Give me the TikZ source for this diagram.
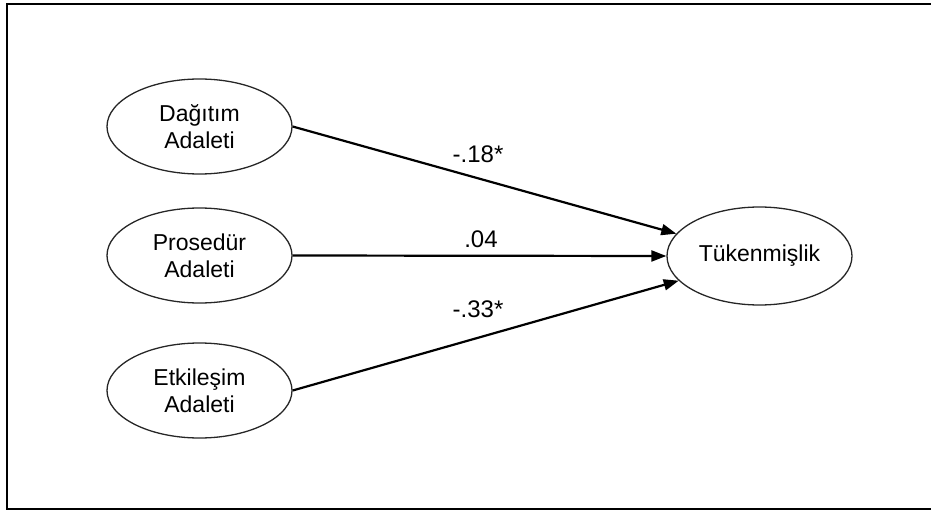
\documentclass[tikz,border=0pt]{standalone}
\usepackage{fontspec}
\setmainfont{Liberation Sans}
\usetikzlibrary{shapes.geometric,arrows.meta}
\begin{document}
\begin{tikzpicture}[x=1pt,y=-1pt,
  latent/.style={ellipse,draw=black!85,line width=1.3pt,inner sep=0pt,minimum width=185pt,minimum height=95pt,align=center,font=\fontsize{23}{27}\selectfont},
  path/.style={line width=2.2pt,-{Triangle[length=15pt,width=11pt]}},
  coef/.style={anchor=base,font=\fontsize{24}{28}\selectfont},
  frame/.style={line width=2.5pt}]
\useasboundingbox (0,0) rectangle (931,513);
\draw[frame] (960,4) -- (7,4) -- (7,509) -- (960,509);
\node[latent] (d) at (199.5,126.5) {Dağıtım\\Adaleti};
\node[latent] (p) at (199.5,255.5) {Prosedür\\Adaleti};
\node[latent] (e) at (199.5,390.5) {Etkileşim\\Adaleti};
\node[latent,minimum height=98pt] (t) at (759.5,256) {Tükenmişlik};
\draw[path] (d.east) -- (t.165);
\draw[path] (p.east) -- (t.west);
\draw[path] (e.east) -- (t.197);
\node[coef] (c1) at (478,163) {-.18*};
\node[coef] (c2) at (481,247) {.04};
\node[coef] (c3) at (478,317) {-.33*};
\end{tikzpicture}
\end{document}
